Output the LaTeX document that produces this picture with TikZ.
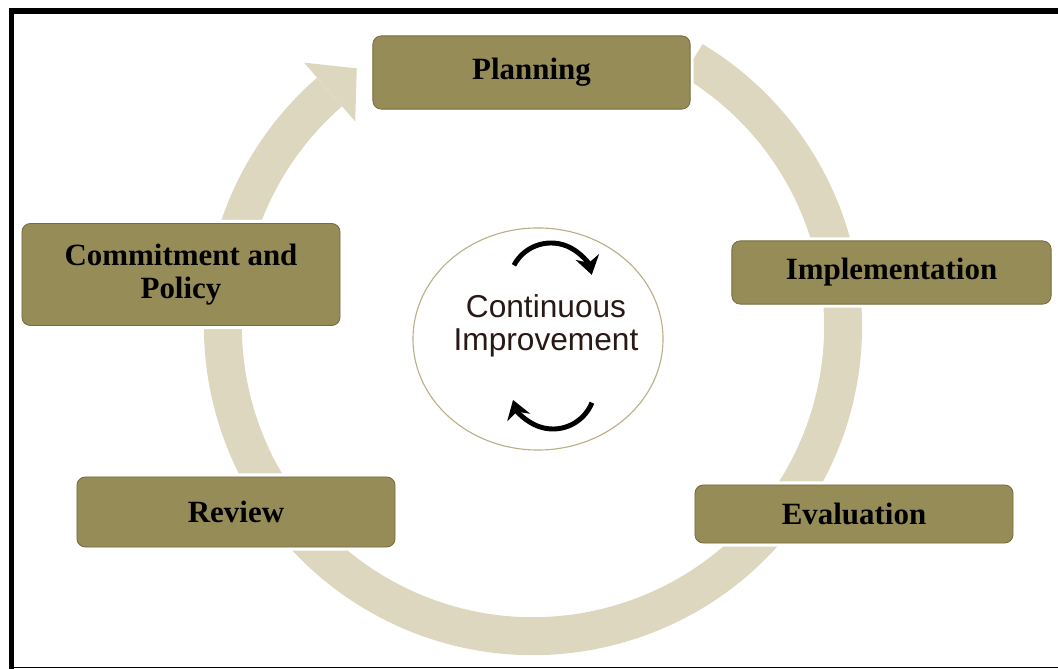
\documentclass[tikz,border=0pt]{standalone}
\usepackage{fontspec}
\setmainfont{Liberation Serif}
\setsansfont{Liberation Sans}
\usetikzlibrary{arrows.meta,calc,shapes.geometric}
\definecolor{olivebox}{RGB}{150,140,88}
\definecolor{oliveedge}{RGB}{118,108,60}
\definecolor{ringcol}{RGB}{221,215,192}
\definecolor{ciedge}{RGB}{185,176,135}
\definecolor{citext}{RGB}{40,25,22}
\tikzstyle{stage}=[rectangle, rounded corners=6pt, fill=olivebox, draw=oliveedge, line width=0.6pt, preaction={draw=white, line width=5pt}, font=\fontsize{22}{23.5}\selectfont\bfseries, text=black, align=center, inner sep=0pt]
\tikzstyle{ring}=[line width=27pt, ringcol]
\tikzstyle{cycle}=[line width=3.5pt, -{Stealth[length=13pt,width=17pt]}]

\begin{document}
\begin{tikzpicture}[x=0.025cm, y=0.025cm]
	\useasboundingbox (0,0) rectangle (1058,669);
	\draw[line width=4.2pt] (9,658) -- (1058,658);
	\draw[line width=4pt] (11.5,661) -- (11.5,0);
	\draw[line width=1.4pt] (9,1.5) -- (1058,1.5);

	\coordinate (hub) at (533,343);
	\draw[ring] ($(hub)+(59:310)$) arc[start angle=59, end angle=-229, radius=7.75cm];
	\fill[ringcol] ($(hub)+(131:271)$) -- ($(hub)+(131:349)$) -- ($(hub)+(131:310)+(41:36)$) -- cycle;

	\node[stage, minimum width=7.93cm, minimum height=1.83cm] (plan) at (531.5,596.5) {Planning};
	\node[stage, minimum width=7.95cm, minimum height=2.55cm] (commit) at (181,394.5) {Commitment and\\Policy};
	\node[stage, minimum width=7.98cm, minimum height=1.58cm] (impl) at (891.5,396.5) {Implementation};
	\node[stage, minimum width=7.95cm, minimum height=1.75cm] (review) at (236,157) {Review};
	\node[stage, minimum width=7.95cm, minimum height=1.45cm] (eval) at (854,155) {Evaluation};

	\node[ellipse, draw=ciedge, line width=0.8pt, fill=white, minimum width=6.25cm, minimum height=5.55cm] (ci) at (538,330) {};
	\node[font=\fontsize{22.5}{23}\selectfont\sffamily, text=citext, align=center, inner sep=0pt] (citxt) at (546,343) {Continuous\\Improvement};

	\draw[cycle] ($(ci.center)+(13,54)+(152:42)$) arc[start angle=152, end angle=14, radius=1.05cm];
	\draw[cycle] ($(ci.center)+(15,-48)+(-22:42)$) arc[start angle=-22, end angle=-162, radius=1.05cm];
\end{tikzpicture}
\end{document}
